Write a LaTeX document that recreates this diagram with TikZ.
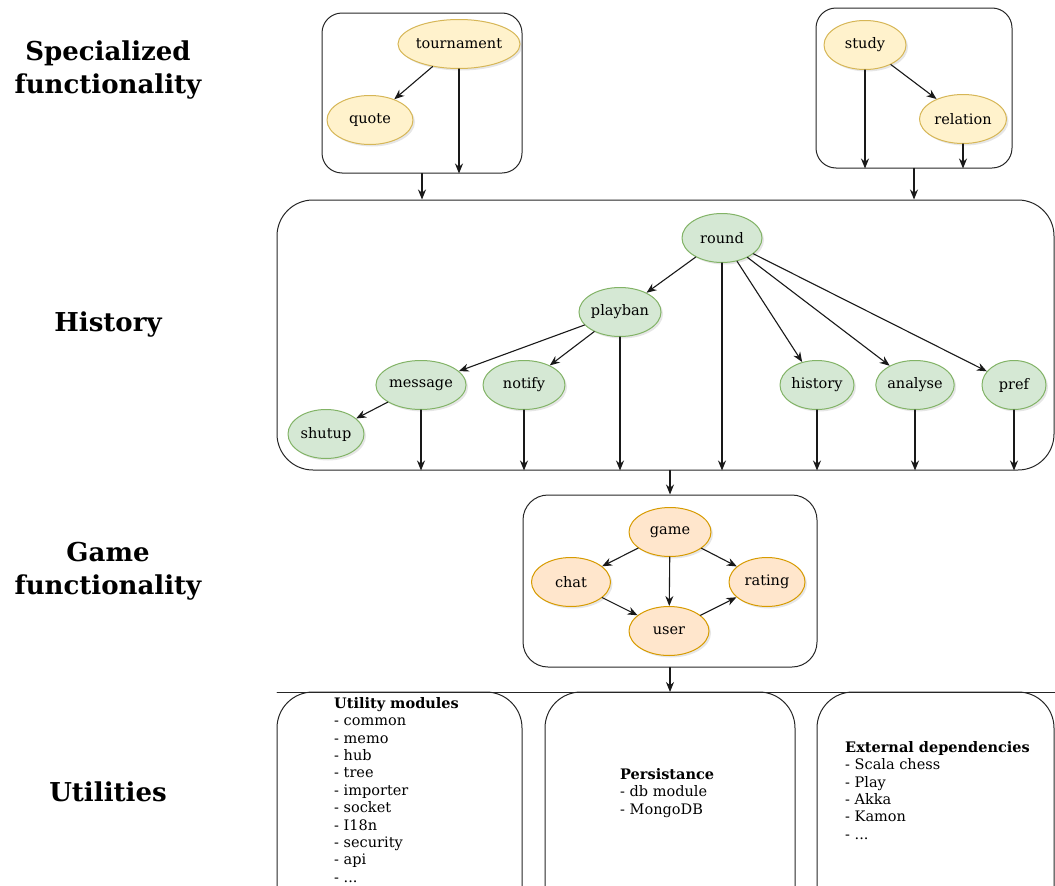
\documentclass[tikz,border=0pt]{standalone}
\usepackage{fontspec}
\setmainfont{DejaVu Serif}
\usetikzlibrary{shapes.geometric, arrows.meta, shadows}
\definecolor{specFill}{HTML}{FFF2CC}
\definecolor{specLine}{HTML}{D6B656}
\definecolor{histFill}{HTML}{D5E8D4}
\definecolor{histLine}{HTML}{82B366}
\definecolor{gameFill}{HTML}{FFE6CC}
\definecolor{gameLine}{HTML}{D79B00}
\tikzset{
    layers/.style={>={Stealth[length=10pt, width=8pt]}, line cap=round, line join=round,
                   x=1pt, y=-1pt, font=\fontsize{14.5}{17}\selectfont},
    module/.style={ellipse, draw, line width=1pt, inner sep=0pt,
                   minimum height=49pt,
                   drop shadow={opacity=0.2, shadow xshift=2pt, shadow yshift=-2pt}},
    specmod/.style={module, fill=specFill, draw=specLine},
    histmod/.style={module, fill=histFill, draw=histLine},
    gamemod/.style={module, fill=gameFill, draw=gameLine},
    groupbox/.style={draw=black!85, line width=1pt, rounded corners=20pt},
    layerlabel/.style={font=\fontsize{26}{33}\selectfont\bfseries, align=center},
    listtext/.style={align=left, anchor=north west, inner sep=0pt,
                     font=\fontsize{14.5}{17.4}\selectfont},
    arrow/.style={->, line width=1.1pt, draw=black!90},
}

\begin{document}
\begin{tikzpicture}[layers]
\useasboundingbox (0,0) rectangle (1055,886);
\clip (0,0) rectangle (1055,886);

% ─── Noms des couches ───────────────────────────────────────────────────
\node[layerlabel] (lblSpec) at (108,70)  {Specialized\\functionality};
\node[layerlabel] (lblHist) at (108,325) {History};
\node[layerlabel] (lblGame) at (108,571) {Game\\functionality};
\node[layerlabel] (lblUtil) at (108,792) {Utilities};

% ─── Couche 1 : fonctionnalités spécialisées ────────────────────────────
\node[groupbox, minimum width=200pt, minimum height=160pt] (specA) at (422,93) {};
\node[groupbox, minimum width=196pt, minimum height=160pt] (specB) at (914,88) {};

\node[specmod, minimum width=100pt] (tour)  at (459,44)  {tournament};
\node[specmod, minimum width=86pt]  (quote) at (370,120) {quote};
\node[specmod, minimum width=82pt]  (study) at (865,45)  {study};
\node[specmod, minimum width=87pt]  (rel)   at (963,119) {relation};

% ─── Couche 2 : historique ──────────────────────────────────────────────
\node[groupbox, rounded corners=36pt, minimum width=777pt, minimum height=270pt]
    (hist) at (665.5,335) {};

\node[histmod, minimum width=80pt] (round)   at (722,238) {round};
\node[histmod, minimum width=76pt] (playban) at (620,312) {playban};
\node[histmod, minimum width=88pt] (msg)     at (421,385) {message};
\node[histmod, minimum width=82pt] (notify)  at (524,385) {notify};
\node[histmod, minimum width=76pt] (shutup)  at (326,434) {shutup};
\node[histmod, minimum width=74pt] (history) at (817,385) {history};
\node[histmod, minimum width=74pt] (analyse) at (915,385) {analyse};
\node[histmod, minimum width=64pt] (pref)    at (1014,385) {pref};

% ─── Couche 3 : jeu ─────────────────────────────────────────────────────
\node[groupbox, rounded corners=25pt, minimum width=294pt, minimum height=172pt]
    (gameBox) at (670,581) {};

\node[gamemod, minimum width=82pt] (game)   at (670,532) {game};
\node[gamemod, minimum width=79pt] (chat)   at (571,582) {chat};
\node[gamemod, minimum width=76pt] (rating) at (767,582) {rating};
\node[gamemod, minimum width=80pt] (user)   at (669,631) {user};

% ─── Couche 4 : utilitaires ─────────────────────────────────────────────
\coordinate (utilL) at (277,692);
\coordinate (utilR) at (1055,692);
\node[groupbox, rounded corners=36pt, minimum width=245pt, minimum height=230pt] (utilA) at (399.5,807) {};
\node[groupbox, rounded corners=36pt, minimum width=250pt, minimum height=230pt] (utilB) at (670,807) {};
\node[groupbox, rounded corners=36pt, minimum width=237pt, minimum height=230pt] (utilC) at (935.5,807) {};
\draw[line width=1pt, draw=black!85] (utilL) -- (utilR);

\node[listtext] (utilAtxt) at (334,697)
    {\textbf{Utility modules}\\- common\\- memo\\- hub\\- tree\\- importer\\
     - socket\\- I18n\\- security\\- api\\- ...};
\node[listtext] (utilBtxt) at (620,768)
    {\textbf{Persistance}\\- db module\\- MongoDB};
\node[listtext] (utilCtxt) at (845,741)
    {\textbf{External dependencies}\\- Scala chess\\- Play\\- Akka\\- Kamon\\- ...};

% ─── Flèches ────────────────────────────────────────────────────────────
\draw[arrow] (tour)  -- (quote);
\draw[arrow] (tour)  -- (tour |- specA.south);
\draw[arrow] (study) -- (rel);
\draw[arrow] (study) -- (study |- specB.south);
\draw[arrow] (rel)   -- (rel |- specB.south);
\draw[arrow] (specA.south) -- (specA.south |- hist.north);
\draw[arrow] (specB.south) -- (specB.south |- hist.north);

\draw[arrow] (round)   -- (playban);
\draw[arrow] (round)   -- (history);
\draw[arrow] (round)   -- (analyse);
\draw[arrow] (round)   -- (pref);
\draw[arrow] (playban) -- (msg);
\draw[arrow] (playban) -- (notify);
\draw[arrow] (msg)     -- (shutup);
\foreach \m in {round, playban, msg, notify, history, analyse, pref}
    \draw[arrow] (\m) -- (\m |- hist.south);
\draw[arrow] (gameBox.north |- hist.south) -- (gameBox.north);

\draw[arrow] (game) -- (chat);
\draw[arrow] (game) -- (rating);
\draw[arrow] (game) -- (user);
\draw[arrow] (chat) -- (user);
\draw[arrow] (user) -- (rating);
\draw[arrow] (gameBox.south) -- (gameBox.south |- utilL);

\end{tikzpicture}
\end{document}
